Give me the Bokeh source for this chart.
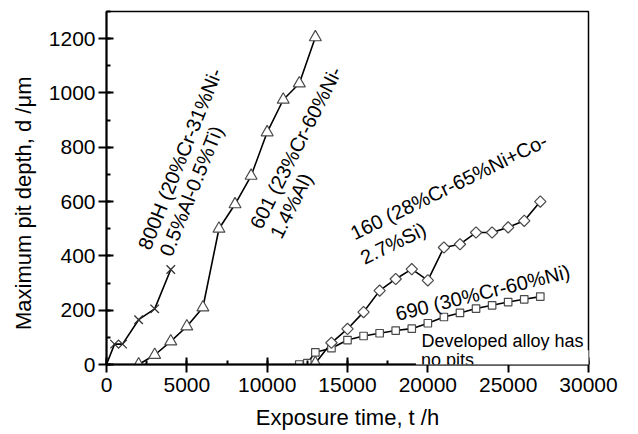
from bokeh.plotting import figure
from bokeh.models import Label, SingleIntervalTicker, Range1d
from bokeh.embed import file_html
from bokeh.resources import INLINE
import numpy as np

# ---- data ----
t_800h = [0, 500, 1000, 2000, 3000, 4000]
d_800h = [0, 75, 75, 165, 205, 350]

t_601 = [2000, 3000, 4000, 5000, 6000, 7000, 8000, 9000, 10000, 11000, 12000, 13000]
d_601 = [0, 35, 85, 140, 210, 500, 590, 695, 855, 975, 1035, 1205]

t_160 = [13000, 14000, 15000, 16000, 17000, 18000, 19000, 20000, 21000, 22000,
         23000, 24000, 25000, 26000, 27000]
d_160 = [5, 80, 131, 193, 272, 315, 351, 310, 431, 443, 486, 486, 505, 529, 600]

t_690 = [12000, 12500, 13000, 14000, 15000, 16000, 17000, 18000, 19000, 20000,
         21000, 22000, 23000, 24000, 25000, 26000, 27000]
d_690 = [0, 5, 45, 60, 90, 105, 115, 125, 132, 152, 175, 190, 206, 218, 230, 240, 250]

FONT = "Liberation Sans"

p = figure(width=638, height=434, x_range=Range1d(0, 30000), y_range=Range1d(0, 1300),
           output_backend="svg", toolbar_location=None,
           min_border_left=106, min_border_top=11, min_border_right=50, min_border_bottom=70)
p.grid.visible = False
p.outline_line_color = "black"
p.outline_line_width = 1.5

p.xaxis.ticker = SingleIntervalTicker(interval=5000, num_minor_ticks=2)
p.yaxis.ticker = SingleIntervalTicker(interval=200, num_minor_ticks=2)
p.xaxis.axis_label = "Exposure time, t /h"
p.yaxis.axis_label = "Maximum pit depth, d /\u03bcm" + "\u00a0" * 5

for ax in (p.xaxis[0], p.yaxis[0]):
    ax.axis_line_width = 2
    ax.major_tick_line_width = 2
    ax.major_tick_in = 7
    ax.major_tick_out = 8
    ax.minor_tick_in = 4
    ax.minor_tick_out = 0
    ax.minor_tick_line_width = 2
    ax.major_label_text_font = FONT
    ax.major_label_text_font_size = "21px"
    ax.major_label_text_color = "black"
    ax.axis_label_text_font = FONT
    ax.axis_label_text_font_size = "22px"
    ax.axis_label_text_font_style = "normal"
    ax.axis_label_text_color = "black"
p.xaxis.major_label_standoff = 5
p.xaxis.axis_label_standoff = 10
p.yaxis.major_label_standoff = 3
p.yaxis.axis_label_standoff = 10

LC = "black"
MC = "#4a4a4a"

p.line(t_800h, d_800h, line_color=LC, line_width=1.6)
p.scatter(t_800h[1:], d_800h[1:], marker="x", size=12, line_color="#333333", line_width=1.3)

p.line(t_601, d_601, line_color=LC, line_width=1.6)
p.scatter(t_601, d_601, marker="triangle", size=12, fill_color="white", line_color=MC, line_width=1.2)

p.line(t_160, d_160, line_color=LC, line_width=1.6)
p.line(t_690, d_690, line_color=LC, line_width=1.6)
p.scatter(t_690, d_690, marker="square", size=7.5, fill_color="white", line_color=MC, line_width=1.2)
p.scatter(t_160[1:], d_160[1:], marker="square", angle=np.pi / 4, size=8, fill_color="white",
          line_color=MC, line_width=1.2)
p.scatter(t_160[:1], d_160[:1], marker="triangle", size=12, fill_color="white", line_color=MC, line_width=1.2)

def lab(x, y, text, angle=0, size="20px", **kw):
    l = Label(x=x, y=y, text=text, angle=angle, angle_units="deg",
              text_font=FONT, text_font_size=size, text_color="black",
              text_align="left", text_baseline="alphabetic", **kw)
    p.add_layout(l)
    return l

lab(2317, 427, "800H (20%Cr-31%Ni-", 68)
lab(3665, 403, "0.5%Al-0.5%Ti)", 68)
lab(9254, 505, "601 (23%Cr-60%Ni-", 63)
lab(10497, 470, "1.4%Al)", 63)
lab(15260, 480, "160 (28%Cr-65%Ni+Co-", 26)
lab(15882, 390, "2.7%Si)", 26)
lab(18012, 185, "690 (30%Cr-60%Ni)", 14)

# note in the lower-right corner (kept inside the plotting area, which clips labels)
NB = "\u00a0"
lab(19606, 87, "Developed alloy has", size="18px")
lab(19260, 16, NB + "no pits" + NB * 30, size="18px", background_fill_color="white")

open("out.html", "w").write(file_html(p, INLINE))
